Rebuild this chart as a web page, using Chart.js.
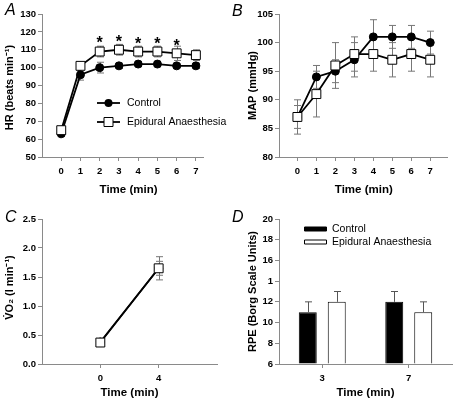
<!DOCTYPE html>
<html>
<head>
<meta charset="utf-8">
<script src="https://cdn.jsdelivr.net/npm/chart.js@4"></script>
<style>
  body { margin: 0; background: #fff; width: 455px; height: 404px; position: relative; overflow: hidden; }
  canvas { position: absolute; }
</style>
</head>
<body>
<canvas id="chartA" width="227" height="200" style="left:0;top:0"></canvas>
<canvas id="chartB" width="228" height="200" style="left:227px;top:0"></canvas>
<canvas id="chartC" width="227" height="204" style="left:0;top:200px"></canvas>
<canvas id="chartD" width="228" height="204" style="left:227px;top:200px"></canvas>
<script>
// ---- data ----
const timeMin = [0, 1, 2, 3, 4, 5, 6, 7];

const hrControl = [63, 96, 100, 101, 102, 102, 101, 101];
const hrControlErr = [1.5, 3, 3, 1.5, 1.5, 1.5, 1, 1.5];
const hrEpidural = [65, 101, 109, 110, 109, 109, 108, 107];
const hrEpiduralErr = [2, 2, 3, 3, 3, 3, 4, 3];
const hrStarTimes = [2, 3, 4, 5, 6];
const hrStarLevels = [115.5, 116, 115, 115, 114];
const hrTicks = [50, 60, 70, 80, 90, 100, 110, 120, 130];

const mapControl = [87, 94, 95, 97, 101, 101, 101, 100];
const mapControlErr = [3, 2, 2, 3, 3, 2, 2, 2];
const mapEpidural = [87, 91, 96, 98, 98, 97, 98, 97];
const mapEpiduralErr = [2, 4, 4, 3, 3, 3, 3, 3];
const mapTicks = [80, 85, 90, 95, 100, 105];

const vo2Times = [0, 4];
const vo2Control = [0.38, 1.65];
const vo2ControlErr = [0.03, 0.12];
const vo2Epidural = [0.37, 1.65];
const vo2EpiduralErr = [0.03, 0.2];
const vo2Ticks = [0, 0.5, 1.0, 1.5, 2.0, 2.5];
const vo2TickLabels = ['0.0', '0.5', '1.0', '1.5', '2.0', '2.5'];

const rpeTimes = ['3', '7'];
const rpeControl = [11, 12];
const rpeControlErr = [1, 1];
const rpeEpidural = [12, 11];
const rpeEpiduralErr = [1, 1];
const rpeTicks = [6, 8, 10, 12, 14, 16, 18, 20];
const rpeTickLabels = ['6', '8', '10', '12', '1', '16', '18', '20'];

// ---- shared styling ----
const FONT = "'Liberation Sans', Arial, sans-serif";
const AXIS_GREY = '#8a8a8a';
Chart.defaults.font.family = FONT;
Chart.defaults.color = '#000';

function axisCommon() {
    return {
        border: { display: true, color: AXIS_GREY, width: 1 },
        grid: { display: true, drawOnChartArea: false, drawTicks: true, tickLength: 4, color: AXIS_GREY, lineWidth: 1 },
    };
}

function yScale(min, max, ticks, labels, width) {
    return Object.assign(axisCommon(), {
        type: 'linear', min: min, max: max,
        afterBuildTicks: s => { s.ticks = ticks.map(v => ({ value: v })); },
        afterFit: s => { s.width = width; },
        ticks: {
            autoSkip: false, padding: 2, color: '#000',
            font: { size: 9.5, weight: 'bold' },
            callback: (v, i) => labels[i]
        }
    });
}

function xLinear(min, max, ticks, height) {
    return Object.assign(axisCommon(), {
        type: 'linear', min: min, max: max,
        afterBuildTicks: s => { s.ticks = ticks.map(v => ({ value: v })); },
        afterFit: s => { s.height = height; },
        ticks: {
            autoSkip: false, padding: 5, color: '#000', maxRotation: 0,
            font: { size: 9.5, weight: 'bold' },
            callback: (v, i) => String(ticks[i])
        }
    });
}

function pts(xs, ys) {
    return xs.map((x, i) => ({ x: x, y: ys[i] }));
}

function controlLine(data) {
    return {
        label: 'Control', data: data, order: 1,
        borderColor: '#000', borderWidth: 1.8,
        pointStyle: 'circle', pointRadius: 4,
        pointBackgroundColor: '#000', pointBorderColor: '#000', pointBorderWidth: 1
    };
}

function epiduralLine(data) {
    return {
        label: 'Epidural Anaesthesia', data: data, order: 0,
        borderColor: '#000', borderWidth: 1.8,
        pointStyle: 'rect', pointRadius: 6.3,
        pointBackgroundColor: '#fff', pointBorderColor: '#000', pointBorderWidth: 1
    };
}

// error bars, drawn through the y scale from value +/- error
function errorBars(errors, opts) {
    const draw = chart => {
        const ctx = chart.ctx;
        const y = chart.scales.y;
        ctx.save();
        ctx.strokeStyle = opts.color;
        ctx.lineWidth = 1;
        errors.forEach((errs, di) => {
            const meta = chart.getDatasetMeta(di);
            const values = chart.data.datasets[di].data;
            meta.data.forEach((el, i) => {
                const v = typeof values[i] === 'object' ? values[i].y : values[i];
                const top = y.getPixelForValue(v + errs[i]);
                const bottom = opts.upperOnly ? el.y : y.getPixelForValue(v - errs[i]);
                const x = Math.round(el.x) + 0.5;
                ctx.beginPath();
                ctx.moveTo(x, top); ctx.lineTo(x, bottom);
                ctx.moveTo(x - opts.cap, top); ctx.lineTo(x + opts.cap, top);
                if (!opts.upperOnly) {
                    ctx.moveTo(x - opts.cap, bottom); ctx.lineTo(x + opts.cap, bottom);
                }
                ctx.stroke();
            });
        });
        ctx.restore();
    };
    return {
        id: 'errorBars',
        beforeDatasetsDraw(chart) { if (!opts.front) draw(chart); },
        afterDatasetsDraw(chart) { if (opts.front) draw(chart); }
    };
}

// panel letter, axis titles, stars, legend
function extras(cfg) {
    return {
        id: 'extras',
        afterDraw(chart) {
            const ctx = chart.ctx;
            const area = chart.chartArea;
            const xs = chart.scales.x;
            ctx.save();
            ctx.fillStyle = '#000';

            ctx.font = 'italic 16px ' + FONT;
            ctx.textAlign = 'left';
            ctx.textBaseline = 'alphabetic';
            ctx.fillText(cfg.letter, cfg.letterX, cfg.letterY);

            // x title centred on the tick span
            const first = xs.getPixelForTick(0);
            const last = xs.getPixelForTick(xs.ticks.length - 1);
            ctx.font = 'bold 11.5px ' + FONT;
            ctx.textAlign = 'center';
            ctx.textBaseline = 'middle';
            ctx.fillText(cfg.xTitle, (first + last) / 2, cfg.xTitleY);

            ctx.save();
            ctx.translate(cfg.yTitleX, (area.top + area.bottom) / 2 + (cfg.yTitleShift || 0));
            ctx.rotate(-Math.PI / 2);
            ctx.font = 'bold 11px ' + FONT;
            ctx.fillText(cfg.yTitle, 0, 0);
            ctx.restore();

            if (cfg.stars) {
                ctx.font = 'bold 16px ' + FONT;
                cfg.stars.times.forEach((t, i) => {
                    ctx.fillText('*', xs.getPixelForValue(t), chart.scales.y.getPixelForValue(cfg.stars.levels[i]) + 4);
                });
            }

            if (cfg.legend) {
                ctx.font = '10.5px ' + FONT;
                ctx.textAlign = 'left';
                cfg.legend.forEach(item => {
                    ctx.strokeStyle = '#000';
                    ctx.lineWidth = 1;
                    if (item.kind === 'line') {
                        ctx.lineWidth = 1.8;
                        ctx.beginPath();
                        ctx.moveTo(item.x, item.y); ctx.lineTo(item.x + 23, item.y);
                        ctx.stroke();
                        ctx.lineWidth = 1;
                        const cx = item.x + 11.5;
                        ctx.beginPath();
                        if (item.marker === 'circle') {
                            ctx.arc(cx, item.y, 4, 0, Math.PI * 2);
                            ctx.fillStyle = '#000';
                            ctx.fill();
                        } else {
                            ctx.rect(cx - 4.5, item.y - 4.5, 9, 9);
                            ctx.fillStyle = '#fff';
                            ctx.fill();
                            ctx.stroke();
                        }
                        ctx.fillStyle = '#000';
                        ctx.fillText(item.text, item.x + 30, item.y);
                    } else {
                        ctx.beginPath();
                        ctx.rect(item.x + 0.5, item.y - 2, 22, 4);
                        ctx.fillStyle = item.fill;
                        ctx.fill();
                        ctx.stroke();
                        ctx.fillStyle = '#000';
                        ctx.fillText(item.text, item.x + 28, item.y);
                    }
                });
            }
            ctx.restore();
        }
    };
}

const baseOptions = (padding, scales) => ({
    responsive: false,
    animation: false,
    events: [],
    layout: { padding: padding },
    plugins: { legend: { display: false }, tooltip: { enabled: false } },
    scales: scales
});

// ---- A: heart rate ----
new Chart(document.getElementById('chartA'), {
    type: 'line',
    data: {
        datasets: [
            controlLine(pts(timeMin, hrControl)),
            epiduralLine(pts(timeMin, hrEpidural))
        ]
    },
    options: baseOptions({ left: 0, top: 14, right: 24, bottom: 0 }, {
        x: xLinear(-1, 7.37, timeMin, 43),
        y: yScale(50, 130, hrTicks, hrTicks.map(String), 42)
    }),
    plugins: [
        errorBars([hrControlErr, hrEpiduralErr], { color: '#777', cap: 3.5 }),
        extras({
            letter: 'A', letterX: 5, letterY: 15,
            xTitle: 'Time (min)', xTitleY: 190,
            yTitle: 'HR (beats min⁻¹)', yTitleX: 10, yTitleShift: 2,
            stars: { times: hrStarTimes, levels: hrStarLevels },
            legend: [
                { kind: 'line', marker: 'circle', text: 'Control', x: 97, y: 103 },
                { kind: 'line', marker: 'rect', text: 'Epidural Anaesthesia', x: 97, y: 122 }
            ]
        })
    ]
});

// ---- B: mean arterial pressure ----
new Chart(document.getElementById('chartB'), {
    type: 'line',
    data: {
        datasets: [
            controlLine(pts(timeMin, mapControl)),
            epiduralLine(pts(timeMin, mapEpidural))
        ]
    },
    options: baseOptions({ left: 0, top: 14, right: 2, bottom: 0 }, {
        x: xLinear(-0.97, 7.92, timeMin, 43),
        y: yScale(80, 105, mapTicks, mapTicks.map(String), 52)
    }),
    plugins: [
        errorBars([mapControlErr, mapEpiduralErr], { color: '#777', cap: 3.5 }),
        extras({
            letter: 'B', letterX: 5, letterY: 16,
            xTitle: 'Time (min)', xTitleY: 190,
            yTitle: 'MAP (mmHg)', yTitleX: 26
        })
    ]
});

// ---- C: oxygen uptake ----
new Chart(document.getElementById('chartC'), {
    type: 'line',
    data: {
        datasets: [
            controlLine(pts(vo2Times, vo2Control)),
            epiduralLine(pts(vo2Times, vo2Epidural))
        ]
    },
    options: baseOptions({ left: 0, top: 19, right: 10, bottom: 0 }, {
        x: xLinear(-4, 8, vo2Times, 40),
        y: yScale(0, 2.5, vo2Ticks, vo2TickLabels, 42)
    }),
    plugins: [
        errorBars([vo2ControlErr, vo2EpiduralErr], { color: '#777', cap: 3.5 }),
        extras({
            letter: 'C', letterX: 5, letterY: 22,
            xTitle: 'Time (min)', xTitleY: 193,
            yTitle: 'V̇O₂ (l min⁻¹)', yTitleX: 10, yTitleShift: -4
        })
    ]
});

// ---- D: perceived exertion ----
const xCat = Object.assign(axisCommon(), {
    type: 'category',
    afterFit: s => { s.height = 40; },
    ticks: { padding: 5, color: '#000', font: { size: 9.5, weight: 'bold' } }
});
xCat.grid.offset = false;

new Chart(document.getElementById('chartD'), {
    type: 'bar',
    data: {
        labels: rpeTimes,
        datasets: [
            { label: 'Control', data: rpeControl, backgroundColor: '#000', borderColor: '#000', borderWidth: 1, base: 6,
              categoryPercentage: 0.67, barPercentage: 0.62 },
            { label: 'Epidural Anaesthesia', data: rpeEpidural, backgroundColor: '#fff', borderColor: '#000', borderWidth: 1, base: 6,
              categoryPercentage: 0.67, barPercentage: 0.62 }
        ]
    },
    options: baseOptions({ left: 0, top: 19, right: 3, bottom: 0 }, {
        x: xCat,
        y: yScale(6, 20, rpeTicks, rpeTickLabels, 52)
    }),
    plugins: [
        errorBars([rpeControlErr, rpeEpiduralErr], { color: '#555', cap: 3.5, upperOnly: true, front: true }),
        extras({
            letter: 'D', letterX: 5, letterY: 22,
            xTitle: 'Time (min)', xTitleY: 193,
            yTitle: 'RPE (Borg Scale Units)', yTitleX: 26,
            legend: [
                { kind: 'bar', fill: '#000', text: 'Control', x: 77, y: 29 },
                { kind: 'bar', fill: '#fff', text: 'Epidural Anaesthesia', x: 77, y: 42 }
            ]
        })
    ]
});
</script>
</body>
</html>
